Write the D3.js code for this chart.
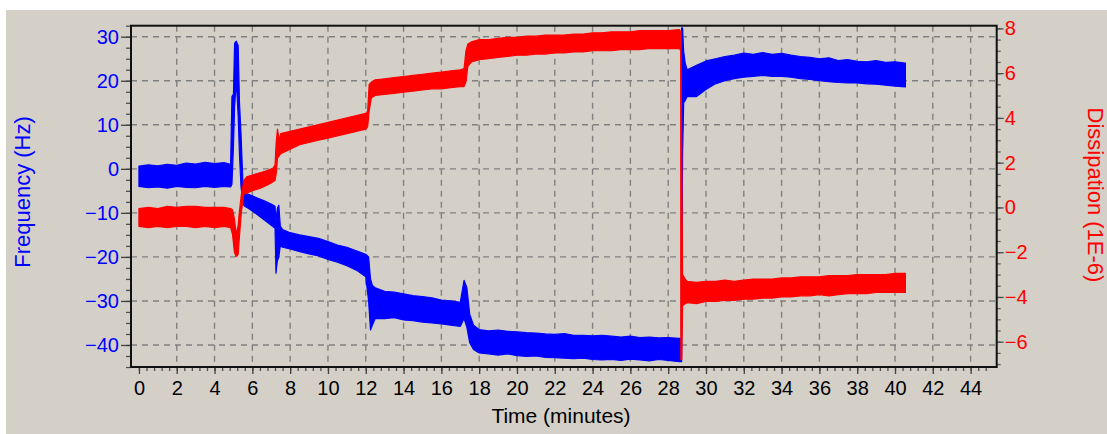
<!DOCTYPE html>
<html>
<head>
<meta charset="utf-8">
<script src="https://cdn.jsdelivr.net/npm/d3@7"></script>
<style>
  html, body { margin: 0; padding: 0; background: #ffffff; }
  svg { display: block; }
  text { font-family: "Liberation Sans", Arial, sans-serif; }
</style>
</head>
<body>
<svg id="chart" width="1107" height="434"></svg>
<script>
// ---- Frequency (Hz), left axis: time in minutes with lower / upper edge of the noisy trace
const freqTime = [0, 0.5, 1, 1.5, 2, 2.5, 3, 3.5, 4, 4.5, 4.85,
  4.92, 5.0, 5.06, 5.15, 5.25, 5.32, 5.4, 5.5, 5.6,
  5.8, 6.2, 6.6, 7.0, 7.2, 7.25, 7.32, 7.4, 7.48,
  7.6, 8.0, 8.5, 9.0, 9.5, 10.0, 10.5, 11.0, 11.5, 12.0,
  12.15, 12.25, 12.35, 12.5,
  13.0, 13.5, 14.0, 14.5, 15.0, 15.5, 16.0, 16.5, 17.0,
  17.2, 17.35, 17.5, 17.7, 18.0,
  18.5, 19.0, 19.5, 20.0, 20.5, 21.0, 21.5, 22.0, 22.5, 23.0, 23.5, 24.0,
  24.5, 25.0, 25.5, 26.0, 26.5, 27.0, 27.5, 28.0, 28.6, 28.7,
  28.71, 28.76, 28.82, 28.9,
  29.0, 29.5, 30.0, 30.5, 31.0, 31.5, 32.0, 32.5, 33.0, 33.5, 34.0, 34.5,
  35.0, 35.5, 36.0, 36.5, 37.0, 37.5, 38.0, 38.5, 39.0, 39.5, 40.0, 40.55];
const freqLow = [-4.0, -4.3, -4.1, -4.4, -4.0, -4.2, -4.3, -4.0, -4.2, -4.0, -4.1,
  -3.5, 5, 14, 20, 12, 3, -4, -8, -8.5,
  -9.0, -10.2, -11.5, -12.8, -13.5, -23.7, -21, -20, -17.5,
  -17.8, -18.2, -18.8, -19.3, -19.8, -20.6, -21.2, -22.0, -23.0, -24.5,
  -30, -36.6, -35.5, -34,
  -34.0, -33.8, -34.3, -34.5, -34.8, -35.0, -35.2, -35.5, -35.8,
  -34, -36, -39.5, -41, -41.8,
  -42.0, -42.3, -42.0, -42.4, -42.6, -42.5, -42.8, -42.9, -43.0, -43.1, -43.0, -43.3,
  -43.4, -43.3, -43.5, -43.2, -43.4, -43.6, -43.3, -43.5, -43.8, -43.8,
  -43.8, 3, 15, 15.5,
  16.4, 16.4, 18.0, 19.3, 20.0, 20.5, 20.8, 21.0, 21.2, 21.0, 21.0, 20.8,
  20.5, 20.3, 20.0, 19.8, 19.6, 19.5, 19.5, 19.3, 19.2, 19.0, 18.8, 18.6];
const freqHigh = [0.6, 0.9, 0.7, 1.0, 0.8, 1.3, 1.1, 1.5, 1.2, 1.4, 1.0,
  16.4, 17, 28.5, 29, 28, 15, 8, -3, -5.5,
  -5.8, -6.5, -7.2, -8.0, -8.5, -12, -9, -8.3, -13,
  -13.8, -14.5, -15.0, -15.4, -15.8, -16.5, -17.3, -17.8, -18.6, -19.4,
  -20, -25, -26.5, -27,
  -27.8, -28.0, -28.4, -28.8, -29.0, -29.3, -29.8, -30.0, -30.3,
  -25.3, -27, -33, -35.5, -36.5,
  -36.8, -36.6, -36.9, -37.0, -37.2, -37.3, -37.5, -37.6, -37.4, -37.8, -37.8, -37.9,
  -37.8, -38.0, -38.2, -38.0, -38.3, -38.2, -38.4, -38.3, -38.5, -38.5,
  32, 32, 26.6, 24,
  22.5, 23.5, 24.5, 25.0, 25.5, 25.8, 26.3, 26.0, 26.4, 26.0, 26.2, 25.8,
  25.5, 25.3, 25.0, 25.2, 24.6, 24.8, 24.4, 24.3, 24.6, 24.2, 24.3, 24.0];

// ---- Dissipation (1E-6), right axis
const dissTime = [0, 0.5, 1, 1.5, 2, 2.5, 3, 3.5, 4, 4.5, 4.85,
  4.95, 5.05, 5.15, 5.25, 5.3, 5.42, 5.55,
  5.7, 6.0, 6.4, 6.8, 7.1, 7.2, 7.26, 7.33, 7.42,
  7.5, 8.0, 8.5, 9.0, 9.5, 10.0, 10.5, 11.0, 11.5, 12.0,
  12.1, 12.18, 12.3, 12.5,
  13.0, 13.5, 14.0, 14.5, 15.0, 15.5, 16.0, 16.5, 17.0,
  17.2, 17.3, 17.4, 17.6, 18.0,
  18.5, 19.0, 19.5, 20.0, 20.5, 21.0, 21.5, 22.0, 22.5, 23.0, 23.5, 24.0,
  24.5, 25.0, 25.5, 26.0, 26.5, 27.0, 27.5, 28.0, 28.6, 28.66,
  28.67, 28.72, 28.76, 28.9,
  29.0, 29.5, 30.0, 30.5, 31.0, 31.5, 32.0, 32.5, 33.0, 33.5, 34.0, 34.5,
  35.0, 35.5, 36.0, 36.5, 37.0, 37.5, 38.0, 38.5, 39.0, 39.5, 40.0, 40.55];
const dissLow = [-0.85, -0.9, -0.85, -0.9, -0.85, -0.85, -0.9, -0.85, -0.9, -0.85, -0.9,
  -1.2, -2.0, -2.2, -2.1, -1.5, -0.2, 0.6,
  0.63, 0.75, 0.85, 1.0, 1.15, 1.2, 1.5, 2.2, 2.3,
  2.4, 2.6, 2.8, 2.9, 3.0, 3.1, 3.2, 3.3, 3.4, 3.5,
  3.6, 4.3, 4.9, 5.0,
  5.05, 5.1, 5.15, 5.2, 5.25, 5.3, 5.3, 5.35, 5.4,
  5.4, 5.6, 6.3, 6.5, 6.6,
  6.65, 6.7, 6.75, 6.8, 6.8, 6.85, 6.85, 6.9, 6.9, 6.95, 6.95, 7.0,
  7.0, 7.0, 7.05, 7.05, 7.05, 7.1, 7.1, 7.1, 7.1, 7.0,
  -6.8, -6.8, -4.4, -4.3,
  -4.25, -4.3, -4.2, -4.2, -4.15, -4.15, -4.1, -4.1, -4.05, -4.05, -4.0, -4.0,
  -3.95, -3.95, -3.9, -3.95, -3.9, -3.85, -3.85, -3.85, -3.8, -3.8, -3.8, -3.8];
const dissHigh = [-0.05, 0.0, -0.05, 0.05, 0.0, 0.05, 0.05, 0.0, 0.0, 0.0, -0.05,
  -0.1, -0.5, -1.2, -0.8, -0.3, 0.6, 1.2,
  1.37, 1.45, 1.55, 1.65, 1.76, 1.9, 2.9, 3.5, 3.0,
  3.3, 3.4, 3.5, 3.6, 3.7, 3.8, 3.9, 4.0, 4.1, 4.2,
  4.3, 5.5, 5.6, 5.7,
  5.75, 5.8, 5.85, 5.9, 5.95, 6.0, 6.05, 6.1, 6.15,
  6.2, 7.0, 7.3, 7.4, 7.5,
  7.5, 7.55, 7.6, 7.6, 7.65, 7.65, 7.7, 7.7, 7.7, 7.75, 7.75, 7.8,
  7.8, 7.85, 7.85, 7.85, 7.9, 7.9, 7.9, 7.9, 7.95, 7.85,
  7.85, 2.1, -3.0, -3.2,
  -3.3, -3.35, -3.3, -3.3, -3.25, -3.3, -3.25, -3.2, -3.2, -3.2, -3.15, -3.15,
  -3.1, -3.1, -3.1, -3.05, -3.05, -3.05, -3.0, -3.0, -3.0, -3.0, -2.95, -2.95];

// ---- tick values
const timeTicks = d3.range(0, 45, 2);
const timeMinor = d3.range(0, 45.2, 0.4);
const freqTicks = [-40, -30, -20, -10, 0, 10, 20, 30];
const freqMinor = d3.range(-45, 32.6, 2.5);
const dissTicks = [-6, -4, -2, 0, 2, 4, 6, 8];
const dissMinor = d3.range(-7, 8.2, 0.5);

const BLUE = "#0000ff", RED = "#ff0000", BG = "#d4d0c8";
const plot = { left: 131, right: 996.7, top: 25.7, bottom: 367 };

const svg = d3.select("#chart");
svg.append("rect").attr("x", 6).attr("y", 10).attr("width", 1107 - 6).attr("height", 434 - 10).attr("fill", BG);

const x = d3.scaleLinear().domain([-0.42, 45.38]).range([plot.left, plot.right]);
const yF = d3.scaleLinear().domain([-45, 32.5]).range([plot.bottom, plot.top]);
const yD = d3.scaleLinear().domain([-7.13, 8.12]).range([plot.bottom, plot.top]);

// dashed grid
const grid = svg.append("g").attr("stroke", "#808080").attr("stroke-width", 1.4).attr("stroke-dasharray", "6,5");
grid.selectAll("line.v").data(timeTicks.filter(t => t > 0)).join("line")
  .attr("x1", d => x(d)).attr("x2", d => x(d)).attr("y1", plot.top).attr("y2", plot.bottom);
grid.selectAll("line.h").data(freqTicks).join("line")
  .attr("y1", d => yF(d)).attr("y2", d => yF(d)).attr("x1", plot.left).attr("x2", plot.right);

// traces
svg.append("clipPath").attr("id", "clip").append("rect")
  .attr("x", plot.left).attr("y", plot.top).attr("width", plot.right - plot.left).attr("height", plot.bottom - plot.top);
const traces = svg.append("g").attr("clip-path", "url(#clip)");

const freqRows = freqTime.map((t, i) => ({ t, lo: freqLow[i], hi: freqHigh[i] }));
const dissRows = dissTime.map((t, i) => ({ t, lo: dissLow[i], hi: dissHigh[i] }));

const bandF = d3.area().x(d => x(d.t)).y0(d => yF(d.lo)).y1(d => yF(d.hi));
const bandD = d3.area().x(d => x(d.t)).y0(d => yD(d.lo)).y1(d => yD(d.hi));

traces.append("path").datum(freqRows).attr("d", bandF)
  .attr("fill", BLUE).attr("stroke", BLUE).attr("stroke-width", 1.2).attr("stroke-linejoin", "round");
traces.append("path").datum(dissRows).attr("d", bandD)
  .attr("fill", RED).attr("stroke", RED).attr("stroke-width", 1.2).attr("stroke-linejoin", "round");

// axes
function styleAxis(g, color, textColor) {
  g.select(".domain").remove();
  g.selectAll(".tick line").attr("stroke", color).attr("stroke-width", 1.3);
  g.selectAll("text").attr("fill", textColor).attr("font-size", 20)
    .attr("font-family", '"Liberation Sans", Arial, sans-serif');
}

// left (frequency)
svg.append("g").attr("transform", `translate(${plot.left},0)`)
  .call(d3.axisLeft(yF).tickValues(freqMinor).tickSize(5).tickFormat(""))
  .call(g => styleAxis(g, "#505050", BLUE));
svg.append("g").attr("transform", `translate(${plot.left},0)`)
  .call(d3.axisLeft(yF).tickValues(freqTicks).tickSize(10).tickPadding(2).tickFormat(d3.format("d")))
  .call(g => styleAxis(g, "#404040", BLUE));

// right (dissipation)
svg.append("g").attr("transform", `translate(${plot.right},0)`)
  .call(d3.axisRight(yD).tickValues(dissMinor).tickSize(4).tickFormat(""))
  .call(g => styleAxis(g, "#606060", RED));
svg.append("g").attr("transform", `translate(${plot.right},0)`)
  .call(d3.axisRight(yD).tickValues(dissTicks).tickSize(7).tickPadding(1).tickFormat(d3.format("d")))
  .call(g => styleAxis(g, "#505050", RED));

// bottom (time)
svg.append("g").attr("transform", `translate(0,${plot.bottom})`)
  .call(d3.axisBottom(x).tickValues(timeMinor).tickSize(4).tickFormat(""))
  .call(g => styleAxis(g, "#505050", "#000"));
svg.append("g").attr("transform", `translate(0,${plot.bottom})`)
  .call(d3.axisBottom(x).tickValues(timeTicks).tickSize(7).tickPadding(7).tickFormat(d3.format("d")))
  .call(g => styleAxis(g, "#404040", "#000"));

// frame
svg.append("rect").attr("x", plot.left).attr("y", plot.top)
  .attr("width", plot.right - plot.left).attr("height", plot.bottom - plot.top)
  .attr("fill", "none").attr("stroke", "#111").attr("stroke-width", 2);

// axis titles
svg.append("text").attr("x", 561).attr("y", 423)
  .attr("text-anchor", "middle").attr("font-size", 21).attr("fill", "#000").text("Time (minutes)");
svg.append("text").attr("transform", "translate(30,192) rotate(-90)")
  .attr("text-anchor", "middle").attr("font-size", 22).attr("fill", BLUE).text("Frequency (Hz)");
svg.append("text").attr("transform", "translate(1088,195) rotate(90)")
  .attr("text-anchor", "middle").attr("font-size", 22).attr("fill", RED).text("Dissipation (1E-6)");
</script>
</body>
</html>
